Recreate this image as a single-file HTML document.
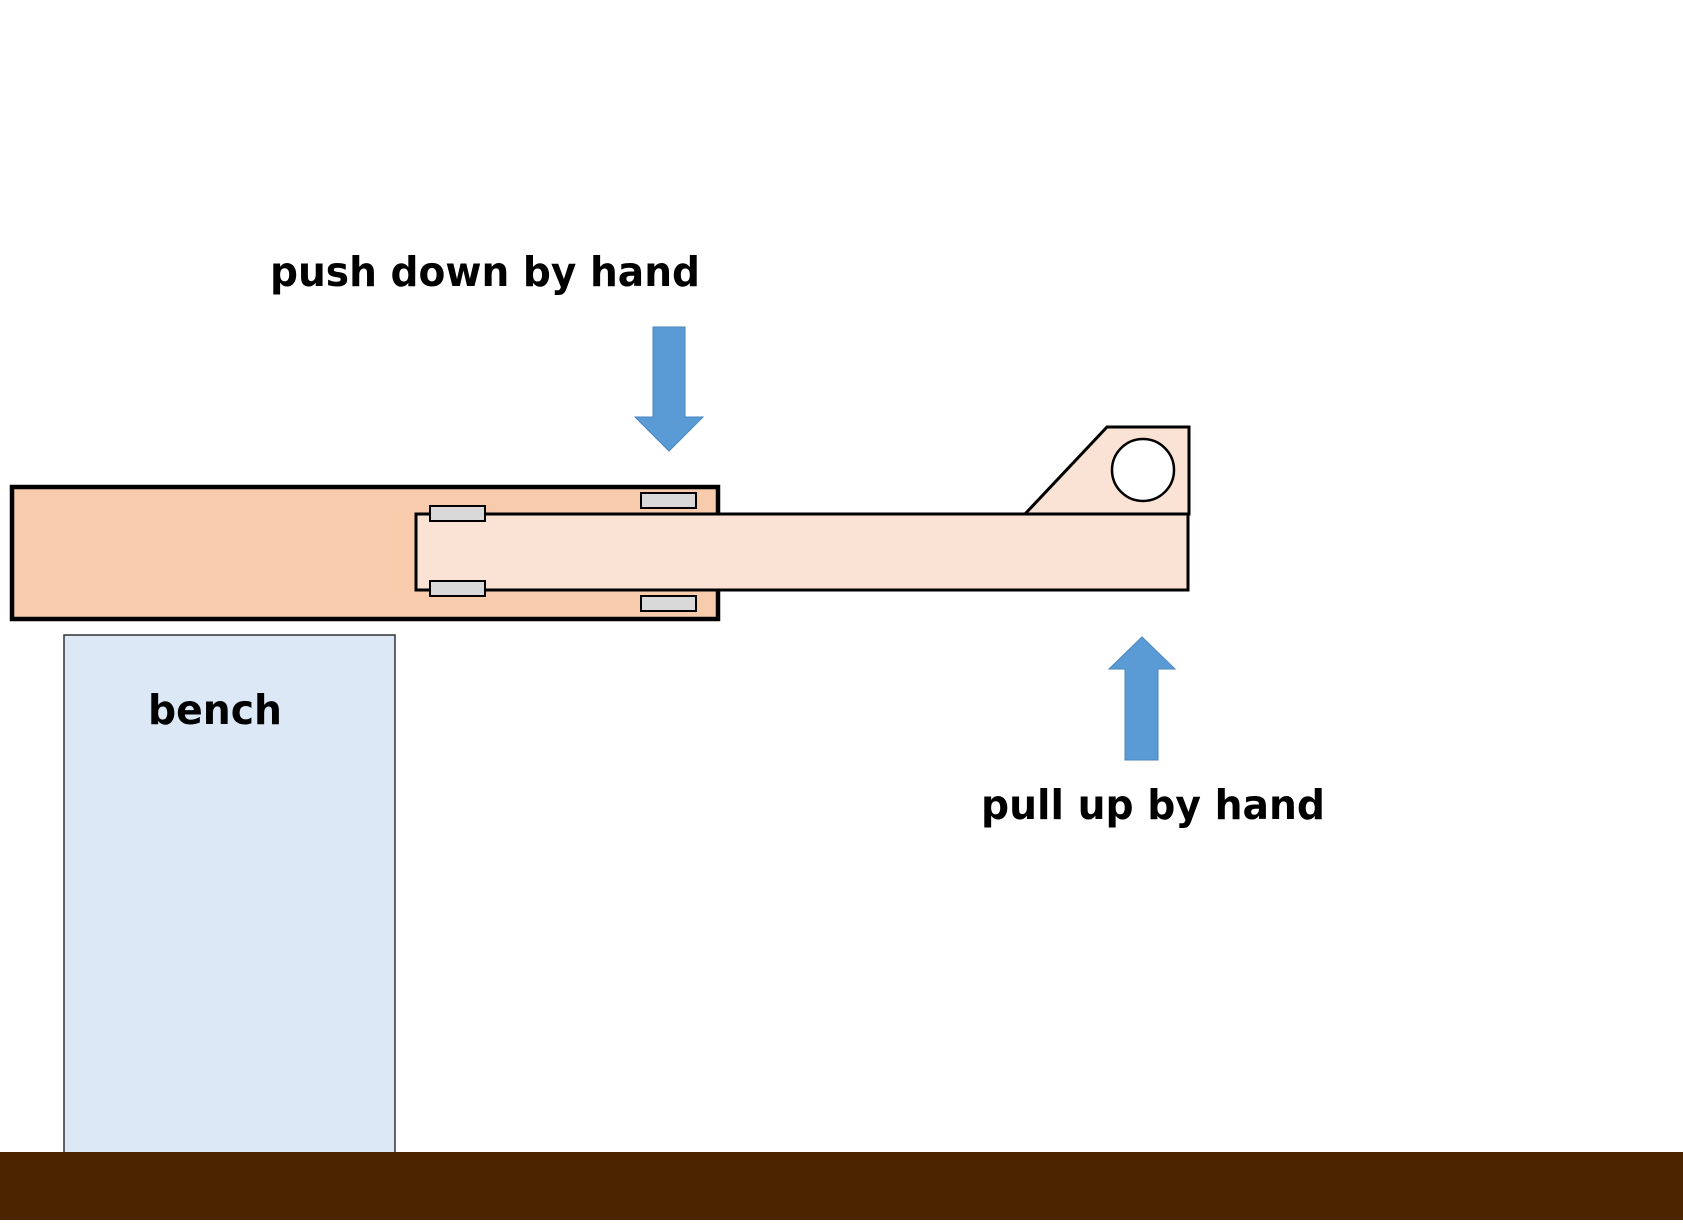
<!DOCTYPE html>
<html><head><style>html,body{margin:0;padding:0;background:#fff}svg{display:block}</style></head>
<body>
<svg width="1683" height="1224" viewBox="0 0 1683 1224" xmlns="http://www.w3.org/2000/svg">
<rect x="0" y="0" width="1683" height="1224" fill="#fff"/>
<rect x="64" y="635" width="331" height="520" fill="#dce8f5" stroke="#333" stroke-width="1.5"/>
<rect x="0" y="1152" width="1683" height="68" fill="#4a2500"/>
<rect x="12" y="487" width="706" height="132" fill="#f7cbac" stroke="#000" stroke-width="4.5"/>
<polygon points="1025,514 1107,427 1189,427 1189,514" fill="#fae3d4" stroke="#000" stroke-width="3"/>
<circle cx="1143" cy="470" r="31" fill="#fff" stroke="#000" stroke-width="2.5"/>
<rect x="416" y="514" width="772" height="76" fill="#fae3d4" stroke="#000" stroke-width="3"/>
<g fill="#d9d9d9" stroke="#000" stroke-width="2">
<rect x="430" y="506" width="55" height="15"/>
<rect x="430" y="581" width="55" height="15"/>
<rect x="641" y="493" width="55" height="15"/>
<rect x="641" y="596" width="55" height="15"/>
</g>
<polygon points="653,327 685,327 685,417 703,417 669,451 635,417 653,417" fill="#5b9bd5" stroke="#4a86c0" stroke-width="1"/>
<polygon points="1142,637 1175,669 1158,669 1158,760 1125,760 1125,669 1109,669" fill="#5b9bd5" stroke="#4a86c0" stroke-width="1"/>
<g font-family="DejaVu Sans, Liberation Sans, sans-serif" font-weight="bold" font-size="41" fill="#000">
<text x="270" y="286" textLength="430" lengthAdjust="spacingAndGlyphs">push down by hand</text>
<text x="981" y="819" textLength="344" lengthAdjust="spacingAndGlyphs">pull up by hand</text>
<text x="148" y="724" textLength="134" lengthAdjust="spacingAndGlyphs">bench</text>
</g>
</svg>
</body></html>
